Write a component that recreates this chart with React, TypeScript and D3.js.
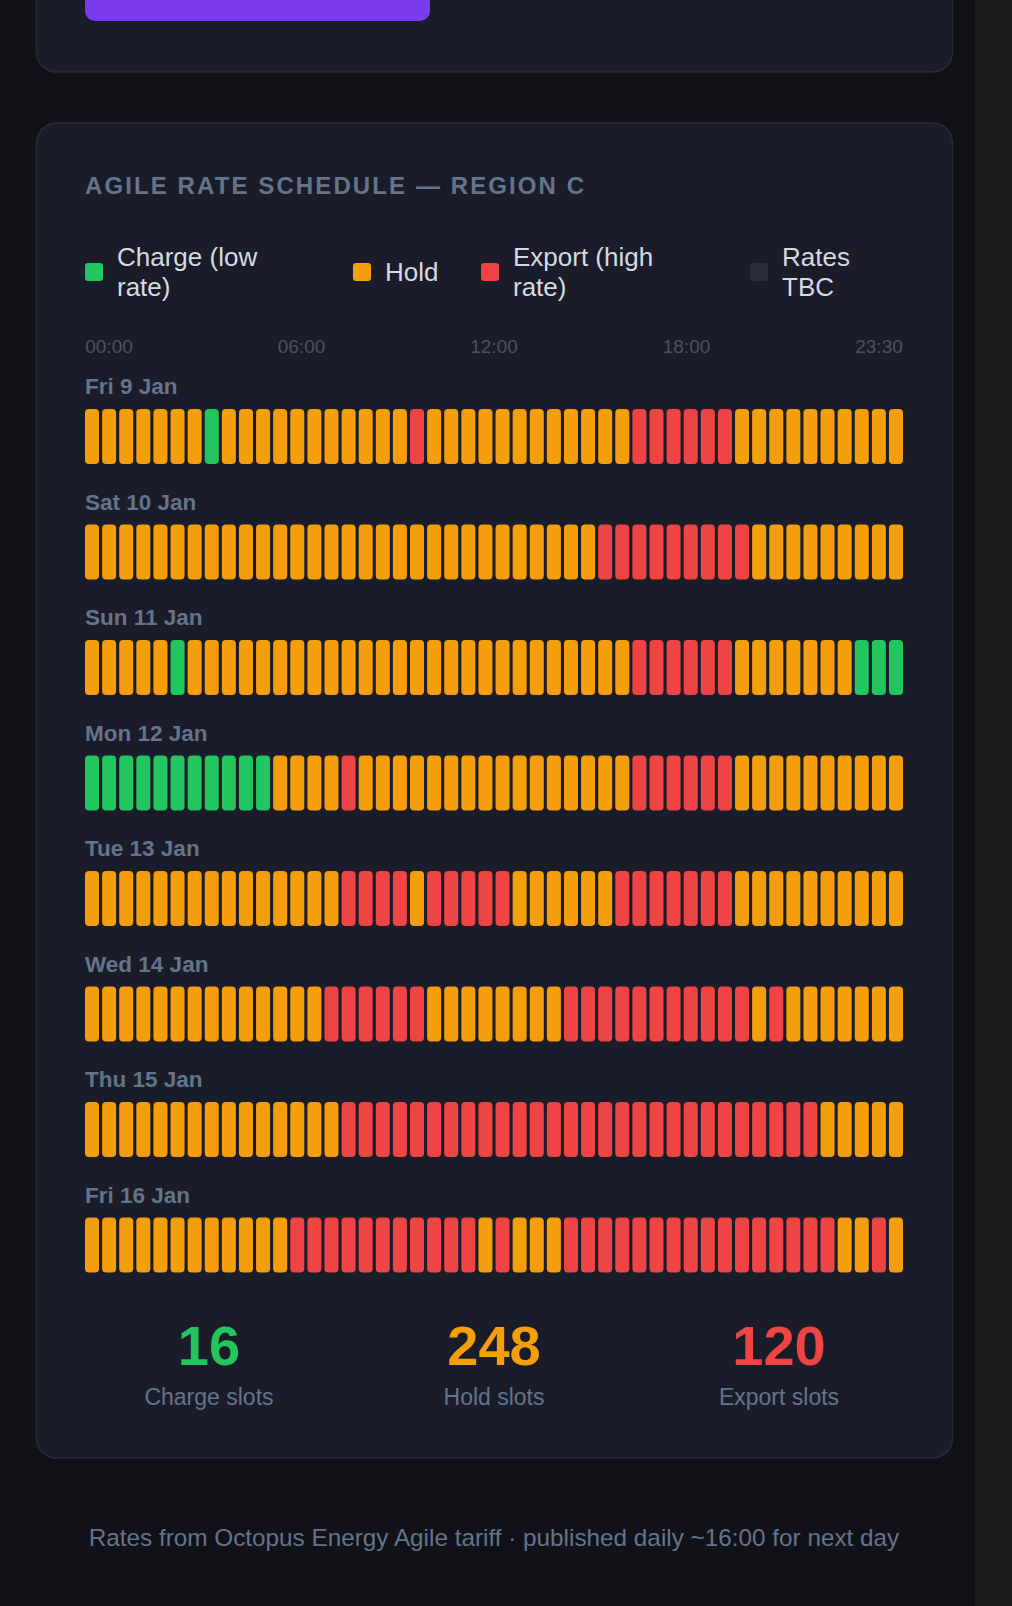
import React, { useEffect, useRef } from "react";
import * as d3 from "d3";

// Half-hour slot actions per day: C = charge, H = hold, E = export.
// Groups of six slots (three hours) are separated by spaces.
const dayLabels = [
  "Fri 9 Jan",
  "Sat 10 Jan",
  "Sun 11 Jan",
  "Mon 12 Jan",
  "Tue 13 Jan",
  "Wed 14 Jan",
  "Thu 15 Jan",
  "Fri 16 Jan",
];

const daySlots = [
  "HHHHHH HCHHHH HHHHHH HEHHHH HHHHHH HHEEEE EEHHHH HHHHHH",
  "HHHHHH HHHHHH HHHHHH HHHHHH HHHHHH EEEEEE EEEHHH HHHHHH",
  "HHHHHC HHHHHH HHHHHH HHHHHH HHHHHH HHEEEE EEHHHH HHHCCC",
  "CCCCCC CCCCCH HHHEHH HHHHHH HHHHHH HHEEEE EEHHHH HHHHHH",
  "HHHHHH HHHHHH HHHEEE EHEEEE EHHHHH HEEEEE EEHHHH HHHHHH",
  "HHHHHH HHHHHH HHEEEE EEHHHH HHHHEE EEEEEE EEEHEH HHHHHH",
  "HHHHHH HHHHHH HHHEEE EEEEEE EEEEEE EEEEEE EEEEEE EHHHHH",
  "HHHHHH HHHHHH EEEEEE EEEEEH EHHHEE EEEEEE EEEEEE EEHHEH",
];

const tickLabels = ["00:00", "06:00", "12:00", "18:00", "23:30"];

const actionKeys = ["C", "H", "E", "T"];
const actionColors = ["#22c55e", "#f59e0b", "#ef4444", "#2a2d39"];
const legendLines = [["Charge (low", "rate)"], ["Hold"], ["Export (high", "rate)"], ["Rates", "TBC"]];

const statKeys = ["C", "H", "E"];
const statNames = ["Charge slots", "Hold slots", "Export slots"];

const footerText =
  "Rates from Octopus Energy Agile tariff · published daily ~16:00 for next day";

const W = 1012;
const H = 1606;
const FONT = "'Liberation Sans', Arial, sans-serif";

export default function App() {
  const ref = useRef<SVGSVGElement | null>(null);

  useEffect(() => {
    const svg = d3.select(ref.current);
    svg.selectAll("*").remove();

    const rows = daySlots.map((s) => s.replace(/ /g, "").split(""));
    const slotIdx = d3.range(48);

    const color = d3.scaleOrdinal<string, string>().domain(actionKeys).range(actionColors);

    // page and scrollbar track
    svg.append("rect").attr("width", W).attr("height", H).attr("fill", "#111218");
    svg.append("rect").attr("x", 975).attr("width", W - 975).attr("height", H).attr("fill", "#1b1b1c");

    // previous panel, clipped at the top of the page
    svg.append("rect")
      .attr("x", 36.5).attr("y", -40).attr("width", 916).attr("height", 112)
      .attr("rx", 20).attr("fill", "#1b1c29").attr("stroke", "#272a38").attr("stroke-width", 1.5);
    svg.append("rect")
      .attr("x", 85).attr("y", -20).attr("width", 345).attr("height", 41)
      .attr("rx", 10).attr("fill", "#7c3aed");

    // schedule panel
    svg.append("rect")
      .attr("x", 36.5).attr("y", 123).attr("width", 916).attr("height", 1335)
      .attr("rx", 20).attr("fill", "#1b1c29").attr("stroke", "#272a38").attr("stroke-width", 1.5);

    svg.append("text")
      .attr("x", 85).attr("y", 194)
      .attr("font-family", FONT).attr("font-size", 24).attr("font-weight", 700)
      .attr("letter-spacing", 2.1).attr("fill", "#64748b")
      .text("AGILE RATE SCHEDULE — REGION C");

    // legend
    const legendX = [85, 353, 481, 750];
    const legend = svg.append("g").selectAll("g").data(actionKeys).join("g")
      .attr("transform", (_d, i) => `translate(${legendX[i]},272)`);
    legend.append("rect")
      .attr("x", 0).attr("y", -9).attr("width", 18).attr("height", 18).attr("rx", 3)
      .attr("fill", (d) => color(d));
    legend.each(function (_d, i) {
      const lines = legendLines[i];
      const g = d3.select(this);
      lines.forEach((ln, j) => {
        g.append("text")
          .attr("x", 32)
          .attr("y", 9 + (j - (lines.length - 1) / 2) * 30)
          .attr("font-family", FONT).attr("font-size", 26)
          .attr("fill", "#d6d9e0")
          .text(ln);
      });
    });

    // slot scale across the day
    const x = d3.scaleBand<number>().domain(slotIdx).range([85, 903]).paddingInner(0.18).paddingOuter(0);

    // time labels spread evenly across the strip
    const tx = d3.scalePoint<string>().domain(tickLabels).range([85 + 24, 903 - 24]);
    svg.append("g").selectAll("text").data(tickLabels).join("text")
      .attr("x", (d) => tx(d)!)
      .attr("y", 353)
      .attr("text-anchor", "middle")
      .attr("font-family", FONT).attr("font-size", 19)
      .attr("fill", "#4a5161")
      .text((d) => d);

    const y = d3.scaleBand<string>().domain(dayLabels).range([409, 409 + 115.5 * dayLabels.length]);

    const day = svg.append("g").selectAll("g").data(dayLabels).join("g")
      .attr("transform", (d) => `translate(0,${y(d)})`);
    day.append("text")
      .attr("x", 85).attr("y", -15)
      .attr("font-family", FONT).attr("font-size", 22.5).attr("font-weight", 700)
      .attr("fill", "#64748b")
      .text((d) => d);
    day.each(function (_d, r) {
      d3.select(this).selectAll("rect").data(rows[r]).join("rect")
        .attr("x", (_a, i) => x(i)!)
        .attr("y", 0)
        .attr("width", x.bandwidth())
        .attr("height", 55)
        .attr("rx", 4)
        .attr("fill", (a) => color(a));
    });

    // totals
    const flat = rows.flat();
    const counts = statKeys.map((k) => flat.filter((a) => a === k).length);
    const sx = d3.scaleBand<string>().domain(statKeys).range([85, 903]).paddingInner(0.13).paddingOuter(0);
    const stat = svg.append("g").selectAll("g").data(statKeys).join("g")
      .attr("transform", (d) => `translate(${sx(d)! + sx.bandwidth() / 2},0)`);
    stat.append("text")
      .attr("y", 1365).attr("text-anchor", "middle")
      .attr("font-family", FONT).attr("font-size", 56).attr("font-weight", 700)
      .attr("fill", (d) => color(d))
      .text((_d, i) => counts[i]);
    stat.append("text")
      .attr("y", 1405).attr("text-anchor", "middle")
      .attr("font-family", FONT).attr("font-size", 23)
      .attr("fill", "#64748b")
      .text((_d, i) => statNames[i]);

    svg.append("text")
      .attr("x", 494).attr("y", 1546).attr("text-anchor", "middle")
      .attr("font-family", FONT).attr("font-size", 24.3)
      .attr("fill", "#64748b")
      .text(footerText);
  }, []);

  return (
    <svg
      ref={ref}
      width={W}
      height={H}
      style={{ position: "absolute", left: 0, top: 0, display: "block" }}
    />
  );
}
